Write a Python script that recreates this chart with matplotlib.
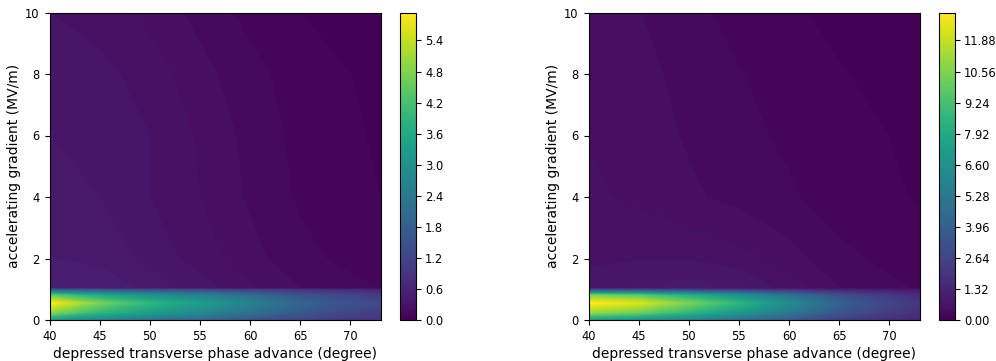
import matplotlib
matplotlib.use("Agg")
import matplotlib.pyplot as plt
import numpy as np

# grid of the scan
phase_adv = [40, 45, 50, 55, 60, 65, 70, 73]
grad = [0, 0.25, 0.55, 0.8, 0.97, 1.03, 2, 4, 6, 8, 10]

# left map, rows follow grad
z_left = [
    [3.2, 2.6, 2.2, 1.9, 1.5, 1.2, 0.9, 0.8],
    [4.9, 3.9, 3.3, 2.8, 2.2, 1.6, 1.2, 1.1],
    [5.94, 4.7, 3.9, 3.3, 2.6, 1.9, 1.45, 1.3],
    [4.5, 3.6, 3.0, 2.6, 2.1, 1.5, 1.2, 1.0],
    [1.8, 1.6, 1.4, 1.3, 1.1, 0.9, 0.7, 0.6],
    [0.5, 0.47, 0.4, 0.33, 0.25, 0.18, 0.14, 0.12],
    [0.42, 0.4, 0.34, 0.27, 0.2, 0.14, 0.1, 0.08],
    [0.38, 0.36, 0.3, 0.24, 0.17, 0.11, 0.08, 0.06],
    [0.36, 0.35, 0.3, 0.23, 0.16, 0.1, 0.07, 0.05],
    [0.34, 0.32, 0.27, 0.2, 0.14, 0.09, 0.06, 0.04],
    [0.3, 0.27, 0.22, 0.16, 0.1, 0.06, 0.04, 0.03],
]

# right map
z_right = [
    [7.0, 6.4, 5.6, 4.6, 3.5, 2.3, 1.6, 1.3],
    [11.0, 10.2, 8.6, 7.0, 5.3, 3.4, 2.3, 1.8],
    [13.068, 12.3, 10.4, 8.5, 6.3, 4.0, 2.6, 2.0],
    [10.5, 9.8, 8.2, 6.6, 4.9, 3.1, 2.1, 1.7],
    [3.2, 3.0, 2.7, 2.3, 1.8, 1.3, 1.0, 0.8],
    [0.75, 0.8, 0.85, 0.8, 0.6, 0.4, 0.3, 0.25],
    [0.62, 0.65, 0.65, 0.58, 0.45, 0.3, 0.22, 0.18],
    [0.55, 0.5, 0.42, 0.35, 0.28, 0.2, 0.15, 0.12],
    [0.52, 0.46, 0.38, 0.3, 0.24, 0.18, 0.13, 0.1],
    [0.5, 0.44, 0.35, 0.27, 0.2, 0.14, 0.1, 0.08],
    [0.45, 0.4, 0.3, 0.22, 0.15, 0.1, 0.08, 0.06],
]

W, H = 996, 361
fig = plt.figure(figsize=(W / 100, H / 100), dpi=100)

def panel(z, ax_left, cb_left):
    ax = fig.add_axes([ax_left / W, 41 / H, 331 / W, 307.5 / H])
    cax = fig.add_axes([cb_left / W, 41 / H, 15.5 / W, 307.5 / H])
    z = np.array(z)
    levels = np.linspace(0, z.max(), 100)
    cs = ax.contourf(phase_adv, grad, z, levels=levels, cmap="viridis")
    fig.colorbar(cs, cax=cax)
    ax.set_xlim(40, 73)
    ax.set_ylim(0, 10)
    ax.set_xticks([40, 45, 50, 55, 60, 65, 70])
    ax.set_xlabel("depressed transverse phase advance (degree)", fontsize=10, labelpad=3)
    ax.set_ylabel("accelerating gradient (MV/m)", fontsize=10, labelpad=3)
    ax.tick_params(labelsize=8.3)
    cax.tick_params(labelsize=8.3)

panel(z_left, 49.5, 400)
panel(z_right, 588.5, 939)

fig.savefig("out.png", dpi=100)
